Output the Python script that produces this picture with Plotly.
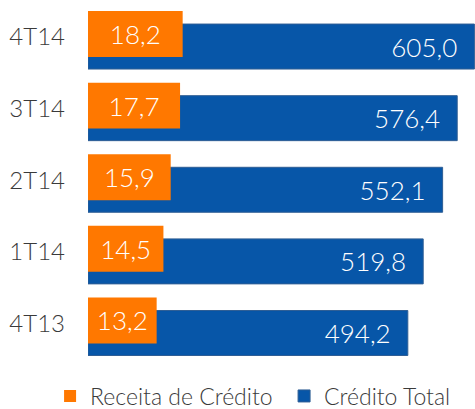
import plotly.graph_objects as go

categorias = ["4T13", "1T14", "2T14", "3T14", "4T14"]
receita_credito = [13.2, 14.5, 15.9, 17.7, 18.2]
credito_total = [494.2, 519.8, 552.1, 576.4, 605.0]

BASE = -38
FONT = "Lato"
NB = "\u00a0"

def br(v):
    return f"{v:.1f}".replace(".", ",")

fig = go.Figure()

fig.add_trace(go.Bar(
    y=categorias, x=[v - BASE for v in credito_total], base=BASE,
    orientation="h", name="Crédito Total", xaxis="x",
    width=0.628, offset=-0.447,
    marker=dict(color="#0756A8", line=dict(color="#2F5E94", width=1)),
    text=[br(v) + NB * 2 for v in credito_total],
    textposition="inside", insidetextanchor="end",
    textfont=dict(family=FONT, size=26, color="white", weight=300),
    constraintext="none", hoverinfo="skip", cliponaxis=False,
))

fig.add_trace(go.Bar(
    y=categorias, x=receita_credito,
    orientation="h", name="Receita de Crédito", xaxis="x2",
    width=0.642, offset=-0.279,
    marker=dict(color="#FF7800", line=dict(width=0)),
    text=[br(v) for v in receita_credito],
    textposition="inside", insidetextanchor="middle",
    textfont=dict(family=FONT, size=26, color="white", weight=300),
    constraintext="none", hoverinfo="skip",
))

fig.update_layout(
    width=475, height=409,
    margin=dict(l=88, r=0, t=0, b=49, autoexpand=False),
    paper_bgcolor="white", plot_bgcolor="white",
    barmode="overlay",
    showlegend=True,
    legend=dict(
        orientation="h", traceorder="reversed",
        x=-0.098, xanchor="left", y=-0.1, yanchor="middle",
        font=dict(family=FONT, size=23, color="#3A3A3A", weight=300),
        itemwidth=30, entrywidth=189, entrywidthmode="pixels",
        bgcolor="rgba(0,0,0,0)",
    ),
    xaxis=dict(range=[BASE, 606], visible=False, fixedrange=True),
    xaxis2=dict(range=[0, 74.4], overlaying="x", visible=False, fixedrange=True),
    yaxis=dict(
        type="category", categoryorder="array", categoryarray=categorias,
        range=[-0.51, 4.517], showgrid=False, zeroline=False, showline=False,
        ticks="", ticklabelstandoff=22, automargin=False,
        tickfont=dict(family=FONT, size=24, color="#3A3A3A", weight=300),
    ),
)

fig.write_html("out.html", config={"displayModeBar": False},
               post_script="document.body.style.margin='0';")
